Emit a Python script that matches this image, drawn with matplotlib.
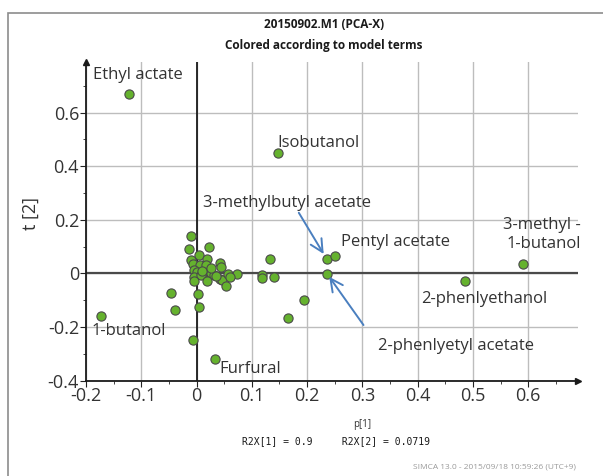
import matplotlib.pyplot as plt
from matplotlib.patches import Rectangle
from matplotlib.ticker import MultipleLocator

plt.rcParams["font.family"] = ["Open Sans", "DejaVu Sans"]

# score values p[1] / t[2]
p1 = [-0.123, 0.148, 0.236, 0.250, 0.236, 0.590, 0.486, -0.173, 0.034,
      0.132, 0.118, 0.119, 0.140, 0.073, 0.195, 0.166, -0.046, -0.039,
      0.002, 0.005, -0.006,
      -0.010, -0.014, 0.022, 0.004, -0.010, -0.006, 0.019, 0.007, 0.018,
      0.042, 0.045, -0.004, 0.001, 0.014, 0.022, 0.027, 0.031, -0.004,
      0.008, -0.004, 0.019, 0.042, 0.046, 0.057, 0.060, 0.054, 0.010,
      0.036, 0.026]
t2 = [0.670, 0.449, 0.054, 0.065, -0.001, 0.034, -0.029, -0.158, -0.321,
      0.054, -0.006, -0.018, -0.015, -0.003, -0.100, -0.166, -0.074, -0.137,
      -0.077, -0.126, -0.250,
      0.140, 0.090, 0.099, 0.068, 0.050, 0.035, 0.052, 0.031, 0.031,
      0.037, 0.025, 0.012, 0.006, 0.000, 0.006, 0.000, -0.006, -0.013,
      -0.006, -0.029, -0.028, -0.022, -0.025, -0.004, -0.013, -0.047, 0.010,
      -0.010, 0.018]

labels = ["Ethyl actate", "Isobutanol", "3-methylbutyl acetate", "Pentyl acetate",
          "3-methyl -\n1-butanol", "2-phenlyethanol", "2-phenlyetyl acetate",
          "1-butanol", "Furfural"]
label_x = [-0.188, 0.146, 0.011, 0.262, 0.695, 0.406, 0.329, -0.190, 0.042]
label_y = [0.740, 0.487, 0.262, 0.116, 0.145, -0.097, -0.272, -0.215, -0.357]
label_ha = ["left", "left", "left", "left", "right", "left", "left", "left", "left"]

fig = plt.figure(figsize=(6.03, 4.76), dpi=100)
fig.patches.append(Rectangle((8 / 603, -0.1), 1.2, 1 - 13 / 476 + 0.1,
                             transform=fig.transFigure, fill=False,
                             edgecolor="#8c8c8c", lw=1.2))

ax = fig.add_axes([0.1426, 0.2006, 0.9585 - 0.1426, 0.8706 - 0.2006])
ax.set_xlim(-0.2, 0.69)
ax.set_ylim(-0.4, 0.79)

ax.xaxis.set_minor_locator(MultipleLocator(0.05))
ax.yaxis.set_minor_locator(MultipleLocator(0.1))
ax.set_xticks([-0.2, -0.1, 0, 0.1, 0.2, 0.3, 0.4, 0.5, 0.6])
ax.set_xticklabels(["-0.2", "-0.1", "0", "0.1", "0.2", "0.3", "0.4", "0.5", "0.6"])
ax.set_yticks([-0.4, -0.2, 0, 0.2, 0.4, 0.6])
ax.set_yticklabels(["-0.4", "-0.2", "0", "0.2", "0.4", "0.6"])
ax.tick_params(axis="both", which="major", labelsize=13, length=4,
               color="#222222", labelcolor="#333333", pad=1)
ax.tick_params(axis="both", which="minor", length=2.5, color="#222222")

ax.grid(True, which="major", color="#bdbdbd", lw=1)
ax.set_axisbelow(True)
for side in ["top", "right"]:
    ax.spines[side].set_visible(False)
for side in ["left", "bottom"]:
    ax.spines[side].set_color("#1a1a1a")
    ax.spines[side].set_linewidth(1.3)
ax.plot(1, 0, ">", color="#1a1a1a", ms=5, transform=ax.transAxes, clip_on=False)
ax.plot(0, 1, "^", color="#1a1a1a", ms=5, transform=ax.transAxes, clip_on=False)

ax.axvline(0, color="#1a1a1a", lw=1.3, zorder=1)
ax.axhline(0, color="#4a4a4a", lw=1.6, zorder=1)

ax.scatter(p1, t2, s=44, facecolor="#65b22e", edgecolor="#4a4a4a",
           linewidth=0.8, zorder=3)

for txt, x, y, ha in zip(labels, label_x, label_y, label_ha):
    ax.text(x, y, txt, fontsize=12, color="#333333", ha=ha, va="center",
            multialignment="right", linespacing=1.25, zorder=4)

arrow_kw = dict(arrowstyle="->,head_length=0.9,head_width=0.45",
                color="#4a7fbf", lw=1.4, shrinkA=0, shrinkB=0)
ax.annotate("", xy=(0.230, 0.072), xytext=(0.185, 0.226), arrowprops=arrow_kw)
ax.annotate("", xy=(0.240, -0.013), xytext=(0.302, -0.193), arrowprops=arrow_kw)

ax.set_ylabel("t [2]", fontsize=13, color="#333333")
ax.yaxis.set_label_coords(-0.093, 0.525)

fig.text(324 / 603, 1 - 24 / 476, "20150902.M1 (PCA-X)", ha="center", va="center",
         fontsize=8.5, fontweight="bold", color="#1a1a1a")
fig.text(324 / 603, 1 - 46 / 476, "Colored according to model terms", ha="center",
         va="center", fontsize=8.5, fontweight="bold", color="#1a1a1a")
fig.text(362 / 603, 1 - 424 / 476, "p[1]", ha="center", va="center", fontsize=7,
         color="#333333")
fig.text(336 / 603, 1 - 441 / 476, "R2X[1] = 0.9     R2X[2] = 0.0719", ha="center",
         va="center", fontsize=7, family="DejaVu Sans Mono", color="#1a1a1a")
fig.text(576 / 603, 1 - 467 / 476, "SIMCA 13.0 - 2015/09/18 10:59:26 (UTC+9)",
         ha="right", va="center", fontsize=6, color="#9a9a9a")

fig.savefig("out.png", dpi=100)
